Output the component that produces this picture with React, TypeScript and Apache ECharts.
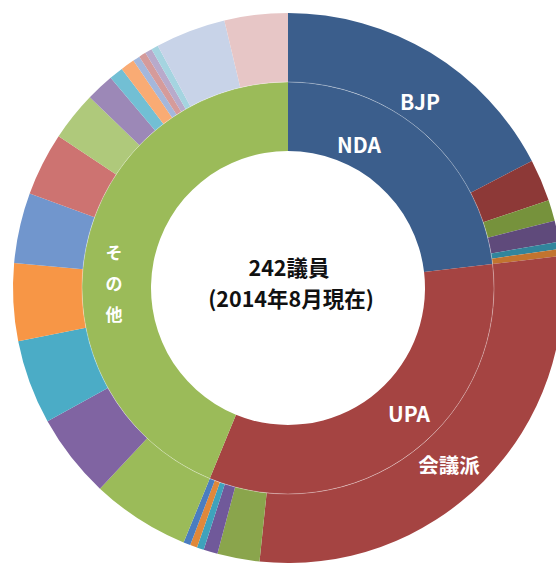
import React, { useEffect, useRef } from "react";
import * as echarts from "echarts";

// Inner ring: alliances
const groupNames = ["NDA", "UPA", "その他"];
const groupSeats = [56, 80, 106];
const groupColors = ["#3B5E8C", "#A54442", "#9BBB59"];

// Outer ring: parties within each alliance (clockwise from the top)
const ndaParties = ["BJP", "NDA-2", "NDA-3", "NDA-4", "NDA-5", "NDA-6"];
const ndaSeats = [42, 6, 3, 3, 1, 1];
const ndaColors = ["#3B5E8C", "#8D3937", "#76923C", "#5F4A7B", "#31859C", "#C2742F"];

const upaParties = ["会議派", "UPA-2", "UPA-3", "UPA-4", "UPA-5", "UPA-6"];
const upaSeats = [69, 6, 2, 1, 1, 1];
const upaColors = ["#A54442", "#8AA54C", "#70599A", "#3FA2BC", "#E0883A", "#4A7DC0"];

const otherParties = [
  "他-1", "他-2", "他-3", "他-4", "他-5", "他-6", "他-7", "他-8",
  "他-9", "他-10", "他-11", "他-12", "他-13", "他-14", "他-15", "他-16",
];
const otherSeats = [14, 12, 12, 11, 10, 9, 7, 4, 2, 2, 1, 1, 1, 1, 10, 9];
const otherColors = [
  "#9BBB59", "#8064A2", "#4BACC6", "#F79646", "#7196CD", "#CD7371", "#AFC97B", "#9C88B7",
  "#72BFD4", "#F9AB74", "#A4B7DB", "#D59B9B", "#B8AACB", "#A5D4E0", "#C8D3E8", "#E7C6C6",
];

const centerTitle = "242議員";
const centerSub = "(2014年8月現在)";

const FONT = '"Noto Sans CJK JP", "Noto Sans", sans-serif';

export default function App() {
  const ref = useRef<HTMLDivElement>(null);

  useEffect(() => {
    if (!ref.current) return;
    const chart = echarts.init(ref.current, undefined, { renderer: "svg" });

    const cx = 288;
    const cy = 288;

    const innerData = groupNames.map((n, i) => ({
      name: n,
      value: groupSeats[i],
      itemStyle: { color: groupColors[i] },
    }));

    const mk = (names: string[], vals: number[], cols: string[]) =>
      names.map((n, i) => ({ name: n, value: vals[i], itemStyle: { color: cols[i] } }));

    const outerData = [
      ...mk(ndaParties, ndaSeats, ndaColors),
      ...mk(upaParties, upaSeats, upaColors),
      ...mk(otherParties, otherSeats, otherColors),
    ];

    const whiteLabel = (text: string, x: number, y: number, size: number, extra: any = {}) => ({
      type: "text",
      z: 100,
      style: {
        text,
        x,
        y,
        fill: "#FFFFFF",
        fontSize: size,
        fontWeight: "bold",
        fontFamily: FONT,
        align: "center",
        verticalAlign: "middle",
        ...extra,
      },
    });

    chart.setOption({
      animation: false,
      backgroundColor: "#FFFFFF",
      series: [
        {
          type: "pie",
          silent: true,
          center: [cx, cy],
          radius: [137, 206],
          startAngle: 90,
          clockwise: true,
          avoidLabelOverlap: false,
          label: { show: false },
          labelLine: { show: false },
          itemStyle: { borderWidth: 0 },
          data: innerData,
        },
        {
          type: "pie",
          silent: true,
          center: [cx, cy],
          radius: [206, 275],
          startAngle: 90,
          clockwise: true,
          avoidLabelOverlap: false,
          label: { show: false },
          labelLine: { show: false },
          itemStyle: { borderWidth: 0 },
          data: outerData,
        },
      ],
      graphic: [
        {
          type: "circle",
          z: 90,
          shape: { cx, cy, r: 206 },
          style: { fill: "none", stroke: "rgba(255,255,255,0.3)", lineWidth: 1 },
        },
        {
          type: "text",
          z: 100,
          style: {
            text: centerTitle,
            x: 289,
            y: 266,
            fill: "#111111",
            fontSize: 21.5,
            fontWeight: "bold",
            fontFamily: FONT,
            align: "center",
            verticalAlign: "middle",
          },
        },
        {
          type: "text",
          z: 100,
          style: {
            text: centerSub,
            x: 291,
            y: 297,
            fill: "#111111",
            fontSize: 21.5,
            fontWeight: "bold",
            fontFamily: FONT,
            align: "center",
            verticalAlign: "middle",
          },
        },
        whiteLabel(groupNames[0], 359, 144, 21),
        whiteLabel(ndaParties[0], 420, 101, 21),
        whiteLabel(groupNames[1], 409, 413, 21),
        whiteLabel(upaParties[0], 449, 464, 20.5),
        whiteLabel("そ\nの\n他", 114, 282, 17, { lineHeight: 31 }),
      ],
    });

    return () => chart.dispose();
  }, []);

  return (
    <div
      ref={ref}
      style={{ position: "fixed", left: 0, top: 0, width: 556, height: 563 }}
    />
  );
}
